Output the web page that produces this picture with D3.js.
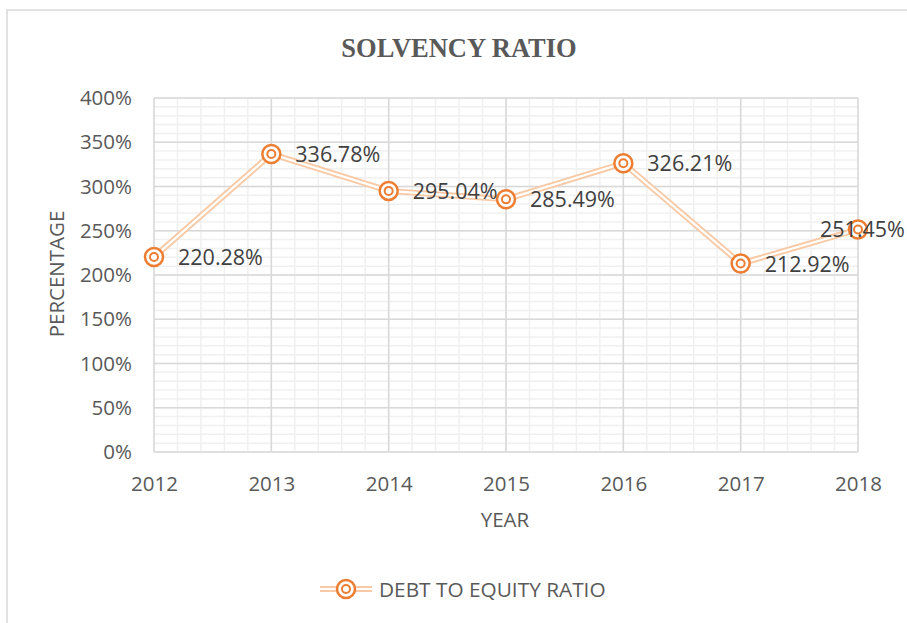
<!DOCTYPE html>
<html>
<head>
<meta charset="utf-8">
<script src="https://cdn.jsdelivr.net/npm/d3@7"></script>
<style>
  body { margin: 0; background: #fff; }
  text { font-family: "Open Sans", "Noto Sans", sans-serif; }
</style>
</head>
<body>
<div id="container"></div>
<script>
let w = 907;
let h = 623;

// data
let years = ["2012", "2013", "2014", "2015", "2016", "2017", "2018"];
let ratios = [220.28, 336.78, 295.04, 285.49, 326.21, 212.92, 251.45];
let yTicks = [0, 50, 100, 150, 200, 250, 300, 350, 400];
let seriesName = "DEBT TO EQUITY RATIO";

let viz = d3.select("#container")
  .append("svg")
  .attr("width", w)
  .attr("height", h)
  .style("background-color", "white");

// chart border
viz.append("rect")
  .attr("x", 7).attr("y", 10)
  .attr("width", w + 10).attr("height", h + 10)
  .attr("fill", "none")
  .attr("stroke", "#d9d9d9")
  .attr("stroke-width", 1.5);

let pLeft = 154, pRight = 858, pTop = 98, pBottom = 452;

let xScale = d3.scaleLinear().domain([0, years.length - 1]).range([pLeft, pRight]);
let yScale = d3.scaleLinear().domain([0, 400]).range([pBottom, pTop]);

// minor grid
let minorX = d3.range(0, (years.length - 1) * 5 + 1).map(d => d / 5);
let minorY = d3.range(0, 401, 10);
let grid = viz.append("g");
grid.selectAll(".mx").data(minorX).enter().append("line")
  .attr("x1", d => xScale(d)).attr("x2", d => xScale(d))
  .attr("y1", pTop).attr("y2", pBottom)
  .attr("stroke", "#f0f0f0").attr("stroke-width", 1.5);
grid.selectAll(".my").data(minorY).enter().append("line")
  .attr("x1", pLeft).attr("x2", pRight)
  .attr("y1", d => yScale(d)).attr("y2", d => yScale(d))
  .attr("stroke", "#f0f0f0").attr("stroke-width", 1.5);

// major grid
grid.selectAll(".Mx").data(years).enter().append("line")
  .attr("x1", (d, i) => xScale(i)).attr("x2", (d, i) => xScale(i))
  .attr("y1", pTop).attr("y2", pBottom)
  .attr("stroke", "#d9d9d9").attr("stroke-width", 1.5);
grid.selectAll(".My").data(yTicks).enter().append("line")
  .attr("x1", pLeft).attr("x2", pRight)
  .attr("y1", d => yScale(d)).attr("y2", d => yScale(d))
  .attr("stroke", "#d9d9d9").attr("stroke-width", 1.5);

// axes labels via d3 axes
let xAxis = d3.axisBottom(xScale).tickValues(d3.range(years.length))
  .tickFormat(i => years[i]).tickSize(0).tickPadding(24);
let xAxisGroup = viz.append("g").attr("transform", "translate(0," + pBottom + ")").call(xAxis);
xAxisGroup.select(".domain").remove();
xAxisGroup.selectAll("text").attr("font-size", 20.5).attr("fill", "#595959")
  .style("font-family", "'Open Sans', sans-serif");

let yAxis = d3.axisLeft(yScale).tickValues(yTicks).tickFormat(d => d + "%")
  .tickSize(0).tickPadding(22);
let yAxisGroup = viz.append("g").attr("transform", "translate(" + pLeft + ",0)").call(yAxis);
yAxisGroup.select(".domain").remove();
yAxisGroup.selectAll("text").attr("font-size", 20.5).attr("fill", "#595959")
  .style("font-family", "'Open Sans', sans-serif");

// line (double compound style)
let line = d3.line().x((d, i) => xScale(i)).y(d => yScale(d));
viz.append("path").datum(ratios).attr("d", line)
  .attr("fill", "none").attr("stroke", "#f8c9a4").attr("stroke-width", 6)
  .attr("stroke-linejoin", "miter");
viz.append("path").datum(ratios).attr("d", line)
  .attr("fill", "none").attr("stroke", "white").attr("stroke-width", 2.2)
  .attr("stroke-linejoin", "miter");

// markers
function marker(g) {
  g.append("circle").attr("r", 9).attr("fill", "white")
    .attr("stroke", "#ed7d31").attr("stroke-width", 2.5);
  g.append("circle").attr("r", 4).attr("fill", "white")
    .attr("stroke", "#ed7d31").attr("stroke-width", 2);
}
let pts = viz.selectAll(".pt").data(ratios).enter().append("g")
  .attr("transform", (d, i) => "translate(" + xScale(i) + "," + yScale(d) + ")");
pts.each(function () { marker(d3.select(this)); });

// data labels
viz.selectAll(".lbl").data(ratios).enter().append("text")
  .attr("x", (d, i) => i == ratios.length - 1 ? xScale(i) - 38 : xScale(i) + 24)
  .attr("y", d => yScale(d) + 8)
  .attr("font-size", 21.5).attr("fill", "#404040")
  .text(d => d.toFixed(2) + "%");

// title
viz.append("text").attr("x", 459).attr("y", 57).attr("text-anchor", "middle")
  .attr("font-size", 26.5).attr("font-weight", "bold").attr("fill", "#595959")
  .style("font-family", "'Liberation Serif', 'DejaVu Serif', serif")
  .text("SOLVENCY RATIO");

// axis titles
viz.append("text").attr("x", 505).attr("y", 527).attr("text-anchor", "middle")
  .attr("font-size", 20.5).attr("fill", "#595959").text("YEAR");
viz.append("text").attr("transform", "translate(64,274) rotate(-90)")
  .attr("text-anchor", "middle").attr("font-size", 20.5).attr("fill", "#595959")
  .text("PERCENTAGE");

// legend
let lg = viz.append("g").attr("transform", "translate(346,589)");
lg.append("line").attr("x1", -26).attr("x2", 26).attr("stroke", "#f8c9a4").attr("stroke-width", 6);
lg.append("line").attr("x1", -26).attr("x2", 26).attr("stroke", "white").attr("stroke-width", 2.2);
marker(lg);
viz.append("text").attr("x", 379).attr("y", 597).attr("font-size", 20.8)
  .attr("fill", "#595959").text(seriesName);
</script>
</body>
</html>
